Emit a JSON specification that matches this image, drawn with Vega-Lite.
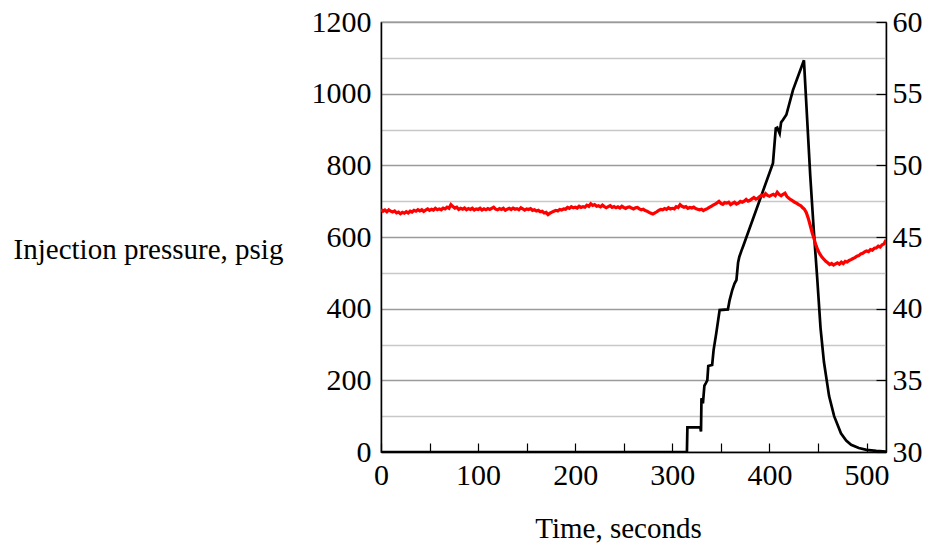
{
  "$schema": "https://vega.github.io/schema/vega-lite/v6.json",
  "width": 505,
  "height": 430,
  "autosize": {"type": "none"},
  "padding": {"left": 381, "top": 22, "right": 42, "bottom": 92},
  "background": "white",
  "config": {
    "view": {"stroke": "#222", "strokeWidth": 1.2},
    "axis": {
      "labelFont": "Liberation Serif",
      "labelFontSize": 30,
      "labelColor": "black",
      "labelFlush": false,
      "titleFont": "Liberation Serif",
      "titleFontSize": 29,
      "titleFontWeight": "normal",
      "titleColor": "black",
      "domainColor": "black",
      "domainWidth": 1.5,
      "tickColor": "black",
      "tickWidth": 1.2
    }
  },
  "datasets": {
    "pressure": [
      {"t": 0, "p": 0}, {"t": 315, "p": 0}, {"t": 315.5, "p": 69}, {"t": 328.7, "p": 69},
      {"t": 329.5, "p": 57}, {"t": 330, "p": 150}, {"t": 331.5, "p": 136}, {"t": 333, "p": 185},
      {"t": 334.5, "p": 192}, {"t": 336, "p": 200}, {"t": 337, "p": 240}, {"t": 341, "p": 243},
      {"t": 342.5, "p": 285}, {"t": 345.2, "p": 331}, {"t": 348.7, "p": 396}, {"t": 357.2, "p": 398},
      {"t": 359, "p": 424}, {"t": 361.7, "p": 452}, {"t": 364, "p": 470}, {"t": 366, "p": 480},
      {"t": 367.7, "p": 529}, {"t": 369, "p": 545}, {"t": 371.2, "p": 562}, {"t": 373, "p": 575},
      {"t": 403.6, "p": 806}, {"t": 406.5, "p": 903}, {"t": 408, "p": 905}, {"t": 410.5, "p": 889},
      {"t": 412, "p": 920}, {"t": 414, "p": 927}, {"t": 417.4, "p": 941}, {"t": 424.2, "p": 1010},
      {"t": 435.5, "p": 1093}, {"t": 442, "p": 771}, {"t": 445.6, "p": 620}, {"t": 449.1, "p": 488},
      {"t": 452.6, "p": 346}, {"t": 456.1, "p": 251}, {"t": 461.4, "p": 156}, {"t": 466.6, "p": 100},
      {"t": 473.6, "p": 52}, {"t": 479, "p": 32}, {"t": 484.1, "p": 20}, {"t": 492, "p": 11},
      {"t": 500, "p": 6}, {"t": 510, "p": 3}, {"t": 520, "p": 1}
    ],
    "temp": [
      {"t": 0, "w": 46.92}, {"t": 2, "w": 46.8}, {"t": 4, "w": 46.88}, {"t": 6, "w": 46.76}, {"t": 8, "w": 46.9}, {"t": 10, "w": 46.8},
      {"t": 12, "w": 46.74}, {"t": 14, "w": 46.82}, {"t": 16, "w": 46.68}, {"t": 18, "w": 46.74}, {"t": 20, "w": 46.62}, {"t": 22, "w": 46.72},
      {"t": 24, "w": 46.66}, {"t": 26, "w": 46.76}, {"t": 28, "w": 46.68}, {"t": 30, "w": 46.8}, {"t": 32, "w": 46.74}, {"t": 34, "w": 46.86},
      {"t": 36, "w": 46.8}, {"t": 38, "w": 46.9}, {"t": 40, "w": 46.82}, {"t": 42, "w": 46.9}, {"t": 44, "w": 46.78}, {"t": 46, "w": 46.88},
      {"t": 48, "w": 46.96}, {"t": 50, "w": 46.86}, {"t": 52, "w": 46.94}, {"t": 54, "w": 46.88}, {"t": 56, "w": 47.0}, {"t": 58, "w": 46.9},
      {"t": 60, "w": 46.96}, {"t": 62, "w": 46.9}, {"t": 64, "w": 47.02}, {"t": 66, "w": 46.96}, {"t": 68, "w": 47.08}, {"t": 70, "w": 47.0},
      {"t": 72, "w": 47.26}, {"t": 74, "w": 47.12}, {"t": 76, "w": 47.02}, {"t": 78, "w": 47.08}, {"t": 80, "w": 46.92}, {"t": 82, "w": 47.0},
      {"t": 84, "w": 46.94}, {"t": 86, "w": 47.02}, {"t": 88, "w": 46.9}, {"t": 90, "w": 46.98}, {"t": 92, "w": 46.92}, {"t": 94, "w": 47.0},
      {"t": 96, "w": 46.88}, {"t": 98, "w": 46.96}, {"t": 100, "w": 46.92}, {"t": 102, "w": 47.0}, {"t": 104, "w": 46.88}, {"t": 106, "w": 46.96},
      {"t": 108, "w": 46.9}, {"t": 110, "w": 46.98}, {"t": 112, "w": 46.92}, {"t": 114, "w": 47.0}, {"t": 116, "w": 47.08}, {"t": 118, "w": 46.94},
      {"t": 120, "w": 46.9}, {"t": 122, "w": 46.98}, {"t": 124, "w": 46.92}, {"t": 126, "w": 47.0}, {"t": 128, "w": 46.86}, {"t": 130, "w": 46.94},
      {"t": 132, "w": 47.0}, {"t": 134, "w": 46.92}, {"t": 136, "w": 47.02}, {"t": 138, "w": 46.94}, {"t": 140, "w": 46.98}, {"t": 142, "w": 46.9},
      {"t": 144, "w": 47.04}, {"t": 146, "w": 46.96}, {"t": 148, "w": 46.88}, {"t": 150, "w": 46.96}, {"t": 152, "w": 46.92}, {"t": 154, "w": 46.98},
      {"t": 156, "w": 46.86}, {"t": 158, "w": 46.9}, {"t": 160, "w": 46.82}, {"t": 162, "w": 46.86}, {"t": 164, "w": 46.76}, {"t": 166, "w": 46.8},
      {"t": 168, "w": 46.68}, {"t": 170, "w": 46.72}, {"t": 172, "w": 46.56}, {"t": 174, "w": 46.66}, {"t": 176, "w": 46.74}, {"t": 178, "w": 46.8},
      {"t": 180, "w": 46.86}, {"t": 182, "w": 46.82}, {"t": 184, "w": 46.92}, {"t": 186, "w": 46.88}, {"t": 188, "w": 46.96}, {"t": 190, "w": 46.94},
      {"t": 192, "w": 47.06}, {"t": 194, "w": 47.0}, {"t": 196, "w": 47.12}, {"t": 198, "w": 47.04}, {"t": 200, "w": 47.08}, {"t": 202, "w": 47.02},
      {"t": 204, "w": 47.14}, {"t": 206, "w": 47.06}, {"t": 208, "w": 47.12}, {"t": 210, "w": 47.08}, {"t": 212, "w": 47.22}, {"t": 214, "w": 47.14},
      {"t": 216, "w": 47.32}, {"t": 218, "w": 47.2}, {"t": 220, "w": 47.26}, {"t": 222, "w": 47.14}, {"t": 224, "w": 47.18}, {"t": 226, "w": 47.1},
      {"t": 228, "w": 47.22}, {"t": 230, "w": 47.12}, {"t": 232, "w": 47.04}, {"t": 234, "w": 47.12}, {"t": 236, "w": 47.18}, {"t": 238, "w": 47.06},
      {"t": 240, "w": 47.12}, {"t": 242, "w": 47.04}, {"t": 244, "w": 47.1}, {"t": 246, "w": 47.02}, {"t": 248, "w": 47.14}, {"t": 250, "w": 47.06},
      {"t": 252, "w": 47.0}, {"t": 254, "w": 47.08}, {"t": 256, "w": 47.1}, {"t": 258, "w": 47.02}, {"t": 260, "w": 46.96}, {"t": 262, "w": 47.04},
      {"t": 264, "w": 47.06}, {"t": 266, "w": 46.96}, {"t": 268, "w": 46.9}, {"t": 270, "w": 46.94}, {"t": 272, "w": 46.84}, {"t": 274, "w": 46.8},
      {"t": 276, "w": 46.72}, {"t": 278, "w": 46.66}, {"t": 280, "w": 46.6}, {"t": 282, "w": 46.68}, {"t": 284, "w": 46.76}, {"t": 286, "w": 46.86},
      {"t": 288, "w": 46.92}, {"t": 290, "w": 46.9}, {"t": 292, "w": 46.98}, {"t": 294, "w": 46.92}, {"t": 296, "w": 47.04}, {"t": 298, "w": 46.96},
      {"t": 300, "w": 47.0}, {"t": 302, "w": 46.96}, {"t": 304, "w": 47.12}, {"t": 306, "w": 47.06}, {"t": 308, "w": 47.26}, {"t": 310, "w": 47.14},
      {"t": 312, "w": 47.08}, {"t": 314, "w": 47.12}, {"t": 316, "w": 47.0}, {"t": 318, "w": 47.06}, {"t": 320, "w": 47.02}, {"t": 322, "w": 47.08},
      {"t": 324, "w": 46.98}, {"t": 326, "w": 46.94}, {"t": 328, "w": 46.9}, {"t": 330, "w": 46.94}, {"t": 332, "w": 46.84}, {"t": 334, "w": 46.92},
      {"t": 336, "w": 46.98}, {"t": 338, "w": 47.06}, {"t": 340, "w": 47.14}, {"t": 342, "w": 47.22}, {"t": 344, "w": 47.3}, {"t": 346, "w": 47.38},
      {"t": 348, "w": 47.48}, {"t": 350, "w": 47.34}, {"t": 352, "w": 47.28}, {"t": 354, "w": 47.4}, {"t": 356, "w": 47.36}, {"t": 358, "w": 47.42},
      {"t": 360, "w": 47.26}, {"t": 362, "w": 47.34}, {"t": 364, "w": 47.42}, {"t": 366, "w": 47.3}, {"t": 368, "w": 47.36}, {"t": 370, "w": 47.48},
      {"t": 372, "w": 47.42}, {"t": 374, "w": 47.5}, {"t": 376, "w": 47.62}, {"t": 378, "w": 47.5}, {"t": 380, "w": 47.56}, {"t": 382, "w": 47.66},
      {"t": 384, "w": 47.76}, {"t": 386, "w": 47.64}, {"t": 388, "w": 47.7}, {"t": 390, "w": 47.82}, {"t": 392, "w": 47.92}, {"t": 394, "w": 47.84},
      {"t": 396, "w": 48.02}, {"t": 398, "w": 47.9}, {"t": 400, "w": 47.84}, {"t": 402, "w": 47.92}, {"t": 404, "w": 47.98}, {"t": 406, "w": 47.88},
      {"t": 408, "w": 48.12}, {"t": 410, "w": 47.96}, {"t": 412, "w": 47.88}, {"t": 414, "w": 47.98}, {"t": 416, "w": 48.06}, {"t": 418, "w": 47.82},
      {"t": 420, "w": 47.7}, {"t": 422, "w": 47.6}, {"t": 424, "w": 47.52}, {"t": 426, "w": 47.42}, {"t": 428, "w": 47.36}, {"t": 430, "w": 47.26},
      {"t": 432, "w": 47.2}, {"t": 434, "w": 47.06}, {"t": 436, "w": 46.94}, {"t": 438, "w": 46.7}, {"t": 440, "w": 46.3}, {"t": 442, "w": 45.8},
      {"t": 444, "w": 45.3}, {"t": 446, "w": 44.85}, {"t": 448, "w": 44.4}, {"t": 450, "w": 44.05}, {"t": 452, "w": 43.8}, {"t": 454, "w": 43.6},
      {"t": 456, "w": 43.45}, {"t": 458, "w": 43.3}, {"t": 460, "w": 43.2}, {"t": 462, "w": 43.08}, {"t": 464, "w": 43.16}, {"t": 466, "w": 43.04},
      {"t": 468, "w": 43.12}, {"t": 470, "w": 43.2}, {"t": 472, "w": 43.1}, {"t": 474, "w": 43.24}, {"t": 476, "w": 43.14}, {"t": 478, "w": 43.3},
      {"t": 480, "w": 43.26}, {"t": 482, "w": 43.36}, {"t": 484, "w": 43.42}, {"t": 486, "w": 43.5}, {"t": 488, "w": 43.56}, {"t": 490, "w": 43.66},
      {"t": 492, "w": 43.7}, {"t": 494, "w": 43.82}, {"t": 496, "w": 43.86}, {"t": 498, "w": 43.96}, {"t": 500, "w": 44.02}, {"t": 502, "w": 43.98},
      {"t": 504, "w": 44.12}, {"t": 506, "w": 44.08}, {"t": 508, "w": 44.22}, {"t": 510, "w": 44.24}, {"t": 512, "w": 44.36}, {"t": 514, "w": 44.3},
      {"t": 516, "w": 44.46}, {"t": 518, "w": 44.52}, {"t": 520, "w": 44.8}
    ]
  },
  "encoding": {
    "x": {
      "field": "t",
      "type": "quantitative",
      "scale": {"domain": [0, 520], "nice": false, "zero": false},
      "axis": {
        "values": [0, 50, 100, 150, 200, 250, 300, 350, 400, 450, 500],
        "labelExpr": "datum.value % 100 === 0 ? datum.label : ''",
        "grid": false,
        "tickSize": -9,
        "labelPadding": 17,
        "title": "Time, seconds",
        "titleAlign": "center",
        "titleX": 237,
        "titlePadding": 24
      }
    }
  },
  "layer": [
    {
      "data": {"name": "pressure"},
      "mark": {"type": "line", "color": "black", "strokeWidth": 2.7, "clip": true},
      "encoding": {
        "y": {
          "field": "p",
          "type": "quantitative",
          "scale": {"domain": [0, 1200], "nice": false},
          "axis": {
            "orient": "left",
            "values": [0, 100, 200, 300, 400, 500, 600, 700, 800, 900, 1000, 1100, 1200],
            "labelExpr": "datum.value % 200 === 0 ? datum.label : ''",
            "format": "d",
            "grid": true,
            "gridColor": {"condition": {"test": "datum.value % 200 === 0", "value": "#9a9a9a"}, "value": "#c8c8c8"},
            "gridWidth": 1.3,
            "ticks": false,
            "labelPadding": 10,
            "title": "Injection pressure, psig",
            "titleAngle": 0,
            "titleAlign": "center",
            "titleBaseline": "alphabetic",
            "titleX": -233,
            "titleY": 236
          }
        }
      }
    },
    {
      "data": {"name": "temp"},
      "mark": {"type": "line", "color": "#ff0000", "strokeWidth": 3.2, "clip": true},
      "encoding": {
        "y": {
          "field": "w",
          "type": "quantitative",
          "scale": {"domain": [30, 60], "nice": false, "zero": false},
          "axis": {
            "orient": "right",
            "values": [30, 35, 40, 45, 50, 55, 60],
            "grid": false,
            "tickSize": -10,
            "labelPadding": 16,
            "title": null
          }
        }
      }
    }
  ],
  "resolve": {"scale": {"y": "independent"}}
}
